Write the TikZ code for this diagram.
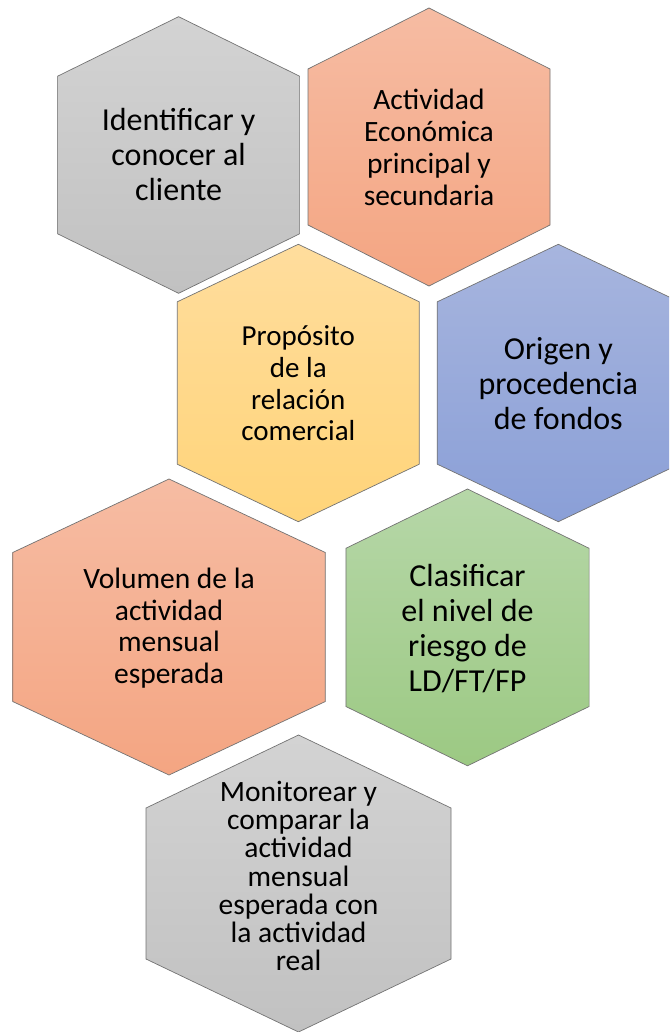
\documentclass[tikz,border=0pt]{standalone}
\usepackage{fontspec}
\setmainfont{Carlito}
\usepackage{tikz}

\definecolor{grayA}{HTML}{D3D3D3}
\definecolor{grayB}{HTML}{C1C1C1}
\definecolor{salmonA}{HTML}{F6BCA3}
\definecolor{salmonB}{HTML}{F4A582}
\definecolor{yellowA}{HTML}{FFDD9D}
\definecolor{yellowB}{HTML}{FFD479}
\definecolor{blueA}{HTML}{A7B5DE}
\definecolor{blueB}{HTML}{8A9FD7}
\definecolor{greenA}{HTML}{B6D7A8}
\definecolor{greenB}{HTML}{9CC983}

% hexagon: style, centre x, centre y, half width, half height, tip depth
\newcommand{\hexcell}[6]{%
  \path[cell,#1] (#2,#3-#5) -- (#2+#4,#3-#5+#6) -- (#2+#4,#3+#5-#6)
    -- (#2,#3+#5) -- (#2-#4,#3+#5-#6) -- (#2-#4,#3-#5+#6) -- cycle;}

\begin{document}
\begin{tikzpicture}[x=1pt,y=-1pt,
    cell/.style={draw=black!55,line width=0.7pt},
    gray cell/.style={top color=grayA,bottom color=grayB},
    salmon cell/.style={top color=salmonA,bottom color=salmonB},
    yellow cell/.style={top color=yellowA,bottom color=yellowB},
    blue cell/.style={top color=blueA,bottom color=blueB},
    green cell/.style={top color=greenA,bottom color=greenB},
    label/.style={align=center,text=black,inner sep=0pt}]
    \useasboundingbox (0,0) rectangle (669,1032);
    \clip (0,0) rectangle (669,1032);

    \hexcell{gray cell}{178.6}{155}{121}{138.3}{59.5}
    \hexcell{salmon cell}{429}{147}{121}{139}{61}
    \hexcell{yellow cell}{298.3}{383}{121}{138.7}{57.5}
    \hexcell{blue cell}{558.3}{383}{121}{138.7}{57.5}
    \hexcell{salmon cell}{169}{627}{156.3}{148}{73.5}
    \hexcell{green cell}{467.5}{627.4}{121.6}{138.4}{59.3}
    \hexcell{gray cell}{298.5}{883.5}{152.5}{148.5}{73}

    \node[label,font=\fontsize{32}{35}\selectfont] (ident) at (178.6,155)
        {Identificar y\\conocer al\\cliente};
    \node[label,font=\fontsize{29.5}{32}\selectfont] (activ) at (429,147)
        {Actividad\\Económica\\principal y\\secundaria};
    \node[label,font=\fontsize{29}{31.7}\selectfont] (propo) at (298.3,383.5)
        {Propósito\\de la\\relación\\comercial};
    \node[label,font=\fontsize{32}{35}\selectfont] (origen) at (558.3,383.5)
        {Origen y\\procedencia\\de fondos};
    \node[label,font=\fontsize{29.5}{31.7}\selectfont] (volumen) at (169,628)
        {Volumen de la\\actividad\\mensual\\esperada};
    \node[label,font=\fontsize{32}{35}\selectfont] (clasif) at (467.5,628.5)
        {Clasificar\\el nivel de\\riesgo de\\LD/FT/FP};
    \node[label,font=\fontsize{29.5}{28.3}\selectfont] (monit) at (298.5,876)
        {Monitorear y\\comparar la\\actividad\\mensual\\esperada con\\la actividad\\real};
\end{tikzpicture}
\end{document}
